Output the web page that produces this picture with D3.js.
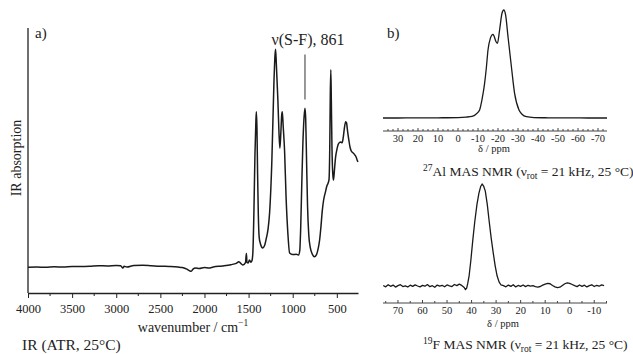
<!DOCTYPE html>
<html>
<head>
<meta charset="utf-8">
<script src="https://cdn.jsdelivr.net/npm/d3@7"></script>
<style>
  body { margin: 0; background: #fff; }
  text { font-family: "Liberation Serif", "Times New Roman", serif; fill: #222; }
</style>
</head>
<body>
<div id="chart"></div>
<script>
// IR spectrum (ATR), wavenumber in cm-1, absorption in arbitrary units
var irWavenumber = [4000,3900,3800,3700,3600,3500,3400,3300,3200,3100,3000,2950,2925,2910,2880,2800,2700,2600,2500,2400,2300,2250,2200,2170,2150,2130,2100,2060,2000,1950,1900,1800,1700,1640,1610,1595,1565,1535,1525,1518,1505,1490,1475,1462,1452,1440,1428,1418,1412,1405,1398,1390,1380,1365,1340,1320,1300,1280,1262,1236,1213,1200,1194,1185,1168,1155,1145,1135,1125,1118,1108,1092,1075,1055,1035,1000,960,935,920,910,898,885,872,861,853,843,832,818,800,775,755,730,710,695,680,665,650,630,612,598,588,580,574,568,562,555,546,538,528,515,500,485,470,455,440,428,415,400,390,378,365,350,335,320,305,290,278,268,260];
var irAbsorption = [9.7,9.8,9.7,9.9,9.8,10.0,10.0,10.1,10.3,10.2,10.4,10.3,9.4,10.1,9.8,10.4,10.5,10.3,10.1,10.0,9.8,9.6,9.0,8.4,8.2,9.0,9.4,9.2,9.6,9.4,9.8,10.2,10.7,11.2,11.8,11.4,10.6,11.5,15.0,11.5,11.3,12.5,11.6,12.2,15,30,52,64,68.4,62,45,30,21,18.5,17,17.8,20.5,24,30.2,50.2,79.2,90,92,86,72.8,60,54.6,60,67,68.4,63,53.6,36,22.6,15.1,14.5,14.6,14.3,16,24,40,56,66,69.7,66,50,33,22,17,14.5,13.7,14.5,17,20,25,31,35,38,40.5,41.5,43,55,75,84.2,72,55,45,42.6,46,51,54,56,56.8,57,56.7,58.5,62,64.6,64.2,61,58,55,53.5,53,52.5,51.8,51,50,49.5];
var irTicks = [4000,3500,3000,2500,2000,1500,1000,500];
var sfBand = 861;

// 27Al MAS NMR
var alPpm = [37.5,30,20,10,0,-4,-7,-9,-10.8,-12,-13.3,-14.2,-15,-16.2,-17,-17.5,-18.2,-18.8,-19.7,-20.8,-22,-22.9,-23.8,-25,-26.7,-28.3,-30.5,-32,-34.2,-38,-45,-55,-65,-74.5];
var alIntensity = [0,0,0.1,0.2,0.4,0.8,1.5,3.5,7.4,17,32,47,63,74,77,77.5,75,71.6,69.1,81.5,97,100,95.4,75.3,47.5,22.8,7.4,3.5,1.2,0.4,0.2,0.1,0,0];
var alTicks = [30,20,10,0,-10,-20,-30,-40,-50,-60,-70];

// 19F MAS NMR
var fPpm = [76,75,74,73,72,71,70,69,68,67,66,65,64,63,62,61,60,59,58,57,56,55,54,53,52,51,50,49,48,47,46,45,44,43,42.5,42,41.6,41,40.3,39.5,38.7,37.8,37,36.3,35.7,35.1,34.4,33.6,32.8,32,31.2,30.4,29.6,28.8,28,27,26,25,24,23,22,21,20,19,18,17,16,15,14,13,12,11,10,9,8,7,6,5,4,3,2,1,0,-1,-2,-3,-4,-5,-6,-7,-8,-9,-10,-11,-12,-13,-14,-15];
var fIntensity = [0.5,-0.8,1.2,-0.3,0.9,-1.1,0.4,1.3,-0.6,0.2,-1.0,0.8,-0.4,1.1,0.0,-0.9,0.6,-0.2,1.4,-0.7,0.3,-1.2,0.9,-0.1,0.7,-0.8,1.0,0.2,-0.5,1.5,0.4,1.8,0.6,-1.5,-3.5,-2,2,10,25,45,63,80,91,97.5,100,98,93,80,63,47,33,20,10,4,1,0.3,-0.8,0.9,-0.4,1.2,-0.9,0.5,-0.3,1.0,-0.6,0.7,-0.2,0.4,-0.6,-1,-0.5,0.8,1.8,2.6,2.2,0.5,-0.8,-1.5,-1.2,0.5,2.2,3,2.6,1.5,0.3,-0.6,1.0,-0.3,0.8,-0.9,0.4,1.2,-0.5,0.7,-0.2,1.1,0.3];
var fTicks = [70,60,50,40,30,20,10,0,-10];

var svg = d3.select("#chart").append("svg")
  .attr("width", 633)
  .attr("height", 354);

// ---------- panel a: IR ----------
var ir = {left: 28, right: 358, top: 28, bottom: 293};

var xIR = d3.scaleLinear().domain([4000, 260]).range([ir.left, ir.right]);
var yIR = d3.scaleLinear().domain([0, 100]).range([ir.bottom, ir.top]);

svg.append("line")
  .attr("x1", ir.left).attr("x2", ir.left)
  .attr("y1", ir.top).attr("y2", ir.bottom)
  .attr("stroke", "#222").attr("stroke-width", 1.3);

var irAxis = svg.append("g")
  .attr("transform", "translate(0," + ir.bottom + ")")
  .call(d3.axisBottom(xIR).tickValues(irTicks).tickFormat(d3.format("d"))
    .tickSize(5).tickSizeOuter(0).tickPadding(6));
irAxis.select(".domain").attr("stroke", "#222").attr("stroke-width", 1.3);
irAxis.selectAll(".tick line").attr("stroke", "#222");
irAxis.selectAll(".tick text")
  .style("font-family", "Liberation Serif, serif").style("font-size", "12.5px").attr("fill", "#222");

// minor ticks
svg.append("g").selectAll("line")
  .data(d3.range(3750, 260, -500))
  .enter().append("line")
  .attr("x1", function(d){ return xIR(d); })
  .attr("x2", function(d){ return xIR(d); })
  .attr("y1", ir.bottom).attr("y2", ir.bottom + 3)
  .attr("stroke", "#222");

var irLine = d3.line()
  .x(function(d){ return xIR(d[0]); })
  .y(function(d){ return yIR(d[1]); })
  .curve(d3.curveMonotoneX);

svg.append("path")
  .datum(d3.zip(irWavenumber, irAbsorption))
  .attr("d", irLine)
  .attr("fill", "none")
  .attr("stroke", "#1a1a1a")
  .attr("stroke-width", 1.5)
  .attr("stroke-linejoin", "round");

// S-F marker
svg.append("line")
  .attr("x1", xIR(sfBand)).attr("x2", xIR(sfBand))
  .attr("y1", yIR(90)).attr("y2", yIR(73))
  .attr("stroke", "#777").attr("stroke-width", 1.5);

svg.append("text")
  .attr("x", xIR(sfBand) + 3)
  .attr("y", 45)
  .attr("text-anchor", "middle")
  .style("font-size", "16px")
  .text("ν(S-F), 861");

svg.append("text")
  .attr("x", 35).attr("y", 38)
  .style("font-size", "15px")
  .text("a)");

svg.append("text")
  .attr("transform", "translate(21,158) rotate(-90)")
  .attr("text-anchor", "middle")
  .style("font-size", "14px")
  .text("IR absorption");

var wn = svg.append("text")
  .attr("x", 193).attr("y", 332)
  .attr("text-anchor", "middle")
  .style("font-size", "14px");
wn.append("tspan").text("wavenumber / cm");
wn.append("tspan").attr("dy", -6).style("font-size", "9.5px").text("−1");

svg.append("text")
  .attr("x", 22).attr("y", 350)
  .style("font-size", "15.5px")
  .text("IR (ATR, 25°C)");

// ---------- panel b: NMR ----------
var nmrLeft = 383, nmrRight = 607;

function nmrPanel(ppm, intensity, ticks, domain, minorStep, base, top, axisY, labelX, labelY, titleY, isotope, nucleus, curve) {
  var x = d3.scaleLinear().domain(domain).range([nmrLeft, nmrRight]);
  var y = d3.scaleLinear().domain([0, 100]).range([base, top]);

  svg.append("line")
    .attr("x1", nmrLeft).attr("x2", nmrRight)
    .attr("y1", axisY).attr("y2", axisY)
    .attr("stroke", "#444").attr("stroke-width", 1);

  var minor = d3.range(Math.ceil(domain[1] / minorStep) * minorStep, domain[0], minorStep);
  svg.append("g").selectAll("line")
    .data(minor)
    .enter().append("line")
    .attr("x1", function(d){ return x(d); })
    .attr("x2", function(d){ return x(d); })
    .attr("y1", axisY)
    .attr("y2", function(d){ return ticks.indexOf(d) >= 0 ? axisY - 3 : axisY - 2; })
    .attr("stroke", "#444");

  svg.append("g").selectAll("text")
    .data(ticks)
    .enter().append("text")
    .attr("x", function(d){ return x(d); })
    .attr("y", axisY + 11)
    .attr("text-anchor", "middle")
    .style("font-size", "10.5px")
    .attr("fill", "#333")
    .text(function(d){ return d; });

  svg.append("text")
    .attr("x", labelX)
    .attr("y", labelY)
    .attr("text-anchor", "middle")
    .style("font-size", "10.5px")
    .text("δ / ppm");

  var line = d3.line()
    .x(function(d){ return x(d[0]); })
    .y(function(d){ return y(d[1]); })
    .curve(curve);

  svg.append("path")
    .datum(d3.zip(ppm, intensity))
    .attr("d", line)
    .attr("fill", "none")
    .attr("stroke", "#1a1a1a")
    .attr("stroke-width", 1.3)
    .attr("stroke-linejoin", "round");

  var t = svg.append("text")
    .attr("x", 423).attr("y", titleY)
    .style("font-size", "13.5px");
  t.append("tspan").attr("dy", -5).style("font-size", "9.5px").text(isotope);
  t.append("tspan").attr("dy", 5).text(nucleus + " MAS NMR (ν");
  t.append("tspan").attr("dy", 3).style("font-size", "9.5px").text("rot");
  t.append("tspan").attr("dy", -3).text(" = 21 kHz, 25 °C)");
}

nmrPanel(alPpm, alIntensity, alTicks, [37.5, -74.5], 2.5, 118, 10, 131, 494, 152, 176, "27", "Al", d3.curveMonotoneX);
nmrPanel(fPpm, fIntensity, fTicks, [76.1, -15.2], 5, 286, 184, 303, 503, 327, 349, "19", "F", d3.curveLinear);

svg.append("text")
  .attr("x", 387).attr("y", 38)
  .style("font-size", "15px")
  .text("b)");
</script>
</body>
</html>
